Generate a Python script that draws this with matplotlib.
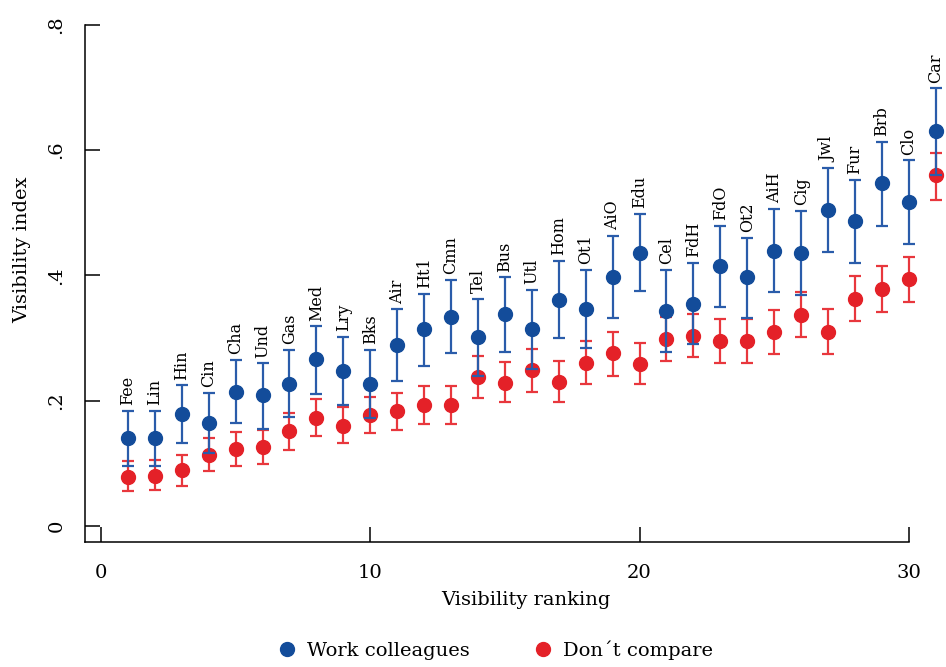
import matplotlib.pyplot as plt
from matplotlib.lines import Line2D

# Visibility index by good, ordered by ranking (1..31)
goods = ["Fee", "Lin", "Hin", "Cin", "Cha", "Und", "Gas", "Med", "Lry", "Bks",
         "Air", "Ht1", "Cmn", "Tel", "Bus", "Utl", "Hom", "Ot1", "AiO", "Edu",
         "Cel", "FdH", "FdO", "Ot2", "AiH", "Cig", "Jwl", "Fur", "Brb", "Clo", "Car"]
rank = list(range(1, len(goods) + 1))

work_mean = [0.140, 0.140, 0.179, 0.164, 0.214, 0.209, 0.227, 0.266, 0.248, 0.227,
             0.289, 0.314, 0.334, 0.302, 0.338, 0.314, 0.361, 0.346, 0.397, 0.436,
             0.344, 0.355, 0.415, 0.398, 0.439, 0.436, 0.504, 0.487, 0.547, 0.517, 0.630]
work_lo = [0.096, 0.096, 0.133, 0.116, 0.165, 0.155, 0.174, 0.211, 0.193, 0.172,
           0.232, 0.255, 0.276, 0.240, 0.277, 0.251, 0.300, 0.284, 0.332, 0.375,
           0.278, 0.291, 0.350, 0.332, 0.373, 0.369, 0.438, 0.420, 0.479, 0.450, 0.560]
work_hi = [0.184, 0.184, 0.225, 0.213, 0.265, 0.260, 0.281, 0.319, 0.302, 0.281,
           0.346, 0.371, 0.393, 0.363, 0.397, 0.377, 0.423, 0.409, 0.463, 0.498,
           0.409, 0.420, 0.479, 0.460, 0.506, 0.503, 0.572, 0.553, 0.613, 0.584, 0.699]

none_mean = [0.079, 0.080, 0.089, 0.113, 0.123, 0.126, 0.151, 0.172, 0.160, 0.177,
             0.183, 0.193, 0.193, 0.238, 0.229, 0.249, 0.230, 0.260, 0.276, 0.259,
             0.299, 0.303, 0.296, 0.296, 0.309, 0.337, 0.310, 0.363, 0.378, 0.394, 0.560]
none_lo = [0.056, 0.058, 0.064, 0.088, 0.096, 0.099, 0.122, 0.144, 0.132, 0.149,
           0.153, 0.163, 0.163, 0.204, 0.198, 0.214, 0.198, 0.227, 0.240, 0.226,
           0.264, 0.269, 0.261, 0.261, 0.274, 0.301, 0.274, 0.328, 0.342, 0.357, 0.520]
none_hi = [0.104, 0.105, 0.114, 0.140, 0.150, 0.153, 0.180, 0.202, 0.190, 0.206,
           0.213, 0.224, 0.224, 0.271, 0.262, 0.282, 0.264, 0.295, 0.310, 0.292,
           0.333, 0.338, 0.330, 0.330, 0.345, 0.373, 0.346, 0.399, 0.415, 0.430, 0.596]

BLUE = "#134c9a"
BLUE_BAR = "#2a5caa"
RED = "#e42128"
RED_BAR = "#e8373d"

plt.rcParams["font.family"] = ["DejaVu Serif"]

fig = plt.figure(figsize=(9.46, 6.67), dpi=100)
ax = fig.add_axes([85 / 946, 125 / 667, 861 / 946, 542 / 667])


def err(mean, lo, hi):
    return [[m - l for m, l in zip(mean, lo)], [h - m for m, h in zip(mean, hi)]]


ax.errorbar(rank, none_mean, yerr=err(none_mean, none_lo, none_hi), fmt="none",
            ecolor=RED_BAR, elinewidth=1.6, capsize=4.5, capthick=1.6, zorder=2)
ax.plot(rank, none_mean, "o", color=RED, markersize=10, zorder=3)
ax.errorbar(rank, work_mean, yerr=err(work_mean, work_lo, work_hi), fmt="none",
            ecolor=BLUE_BAR, elinewidth=1.6, capsize=4.5, capthick=1.6, zorder=4)
ax.plot(rank, work_mean, "o", color=BLUE, markersize=10, zorder=5)

# good names written upward above the upper cap of the work-colleagues interval
for x, hi, name in zip(rank, work_hi, goods):
    ax.annotate(name, (x, hi), xytext=(0, 4), textcoords="offset points",
                rotation=90, ha="center", va="bottom", fontsize=11.5,
                annotation_clip=False)

ax.set_xlim(-0.594, 31.38)
ax.set_ylim(-0.0255, 0.8396)
ax.set_xticks([0, 10, 20, 30])
ax.set_yticks([0, 0.2, 0.4, 0.6, 0.8])
ax.set_yticklabels(["0", ".2", ".4", ".6", ".8"], rotation=90, va="center")
ax.tick_params(direction="in", length=11, width=1.1, labelsize=14)
ax.tick_params(axis="x", pad=16)
ax.tick_params(axis="y", pad=14)

for side in ["top", "right"]:
    ax.spines[side].set_visible(False)
for side in ["left", "bottom"]:
    ax.spines[side].set_linewidth(1.1)
ax.spines["bottom"].set_bounds(-0.594, 30)
ax.spines["left"].set_bounds(-0.0255, 0.8)
ax.patch.set_alpha(0)

fig.text(526 / 946, 1 - 600 / 667, "Visibility ranking", ha="center", va="center", fontsize=14)
fig.text(22 / 946, 1 - 250 / 667, "Visibility index", ha="center", va="center",
         rotation=90, fontsize=14)

handles = [Line2D([], [], marker="o", ls="none", color=BLUE, markersize=10),
           Line2D([], [], marker="o", ls="none", color=RED, markersize=10)]
fig.legend(handles, ["Work colleagues", "Don´t compare"], loc="center", ncol=2,
           bbox_to_anchor=(495 / 946, 1 - 650 / 667), frameon=False, fontsize=14,
           handletextpad=0.5, columnspacing=3.3, handlelength=1)

fig.savefig("out.png", dpi=100)
